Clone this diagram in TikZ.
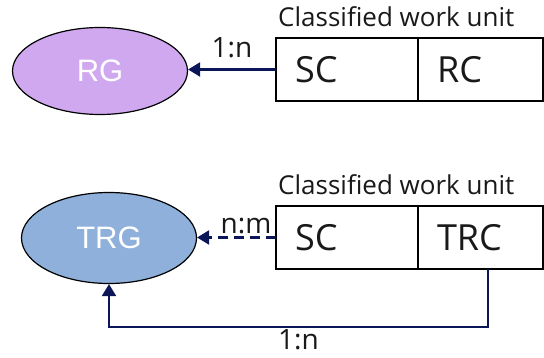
\documentclass[tikz,border=0pt]{standalone}
\usepackage{fontspec}
\setmainfont{Open Sans}
\newfontfamily\ovalfont{Liberation Sans}
\usetikzlibrary{arrows.meta, positioning, shapes.geometric}
\definecolor{linknavy}{RGB}{10,22,88}
\definecolor{rgfill}{RGB}{208,168,240}
\definecolor{trgfill}{RGB}{142,176,218}
\definecolor{inkgray}{RGB}{25,25,25}

\begin{document}
\begin{tikzpicture}[
    x=1pt, y=-1pt,
    oval/.style ={ellipse, draw=black, line width=1.2pt, minimum width=175pt, minimum height=87pt,
                  font=\ovalfont\fontsize{31}{33}\selectfont, text=white},
    cell/.style ={draw=black, line width=1.1pt, outer sep=0pt, minimum height=63pt, inner xsep=19pt,
                  align=left, font=\fontsize{36}{38}\selectfont, text=inkgray},
    unit/.style ={font=\fontsize{26}{28}\selectfont, text=inkgray, anchor=south west, inner sep=0pt},
    card/.style ={font=\fontsize{28}{30}\selectfont, text=inkgray, inner sep=2pt},
    link/.style ={draw=linknavy, line width=2.2pt, -{Triangle[length=12pt, width=14pt]}}
  ]
  \useasboundingbox (0,0) rectangle (544,358);

  %% ---- RG and its work unit ------------------------------------------
  \node[oval, fill=rgfill] (rg) at (100,71) {RG};
  \node[cell, text width=104pt] (sc1) at (347,69.5) {SC};
  \node[cell, text width=87pt, right=0pt of sc1] (rc1) {RC};
  \node[unit] (cwu1) at ([xshift=2pt, yshift=11pt]sc1.north west) {Classified work unit};
  \draw[link] (sc1.west) -- node[card, above=9pt] (card1) {1:n} (sc1.west -| rg.east);

  %% ---- TRG and its work unit -----------------------------------------
  \node[oval, fill=trgfill, minimum height=91pt] (trg) at (109,238) {TRG};
  \node[cell, text width=104pt] (sc2) at (347,237.5) {SC};
  \node[cell, text width=87pt, right=0pt of sc2] (trc) {TRC};
  \node[unit] (cwu2) at ([xshift=2pt, yshift=11pt]sc2.north west) {Classified work unit};
  \draw[link, dash pattern=on 10pt off 6pt] (sc2.west) -- node[card, pos=0.38, above=1pt] (card2) {n:m} (sc2.west -| trg.east);
  \coordinate (turn) at (488,327);
  \draw[link] (trc.south -| turn) -- (turn) -| node[card, inner sep=0pt, pos=0.25, below=1pt] (card3) {1:n} (trg.south);

\end{tikzpicture}
\end{document}
